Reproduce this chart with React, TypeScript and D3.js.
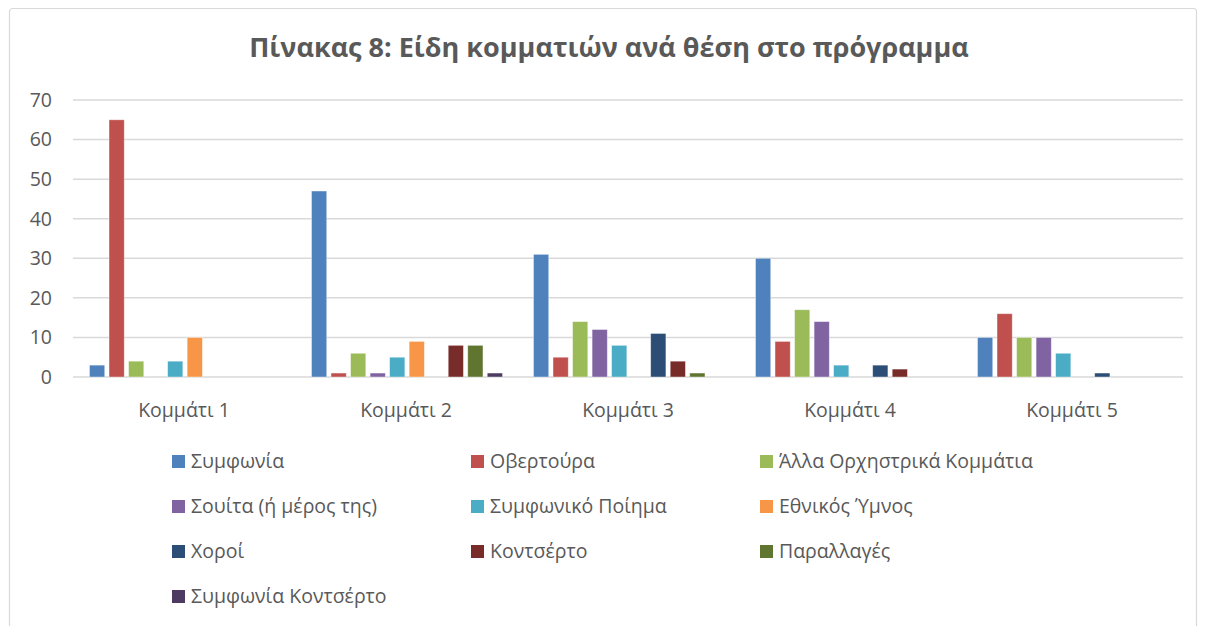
import React from "react";
import * as d3 from "d3";

const categories = ["Κομμάτι 1", "Κομμάτι 2", "Κομμάτι 3", "Κομμάτι 4", "Κομμάτι 5"];
const seriesNames = [
  "Συμφωνία",
  "Οβερτούρα",
  "Άλλα Ορχηστρικά Κομμάτια",
  "Σουίτα (ή μέρος της)",
  "Συμφωνικό Ποίημα",
  "Εθνικός Ύμνος",
  "Χοροί",
  "Κοντσέρτο",
  "Παραλλαγές",
  "Συμφωνία Κοντσέρτο",
];
const seriesColors = [
  "#4F81BD", "#C0504D", "#9BBB59", "#8064A2", "#4BACC6",
  "#F79646", "#2C4D75", "#772C2A", "#5F7530", "#4D3B62",
];
// values[series][category]
const symfonia = [3, 47, 31, 30, 10];
const overtoura = [65, 1, 5, 9, 16];
const allaOrx = [4, 6, 14, 17, 10];
const souita = [0, 1, 12, 14, 10];
const symfPoiima = [4, 5, 8, 3, 6];
const ethnikos = [10, 9, 0, 0, 0];
const xoroi = [0, 0, 11, 3, 1];
const kontserto = [0, 8, 4, 2, 0];
const parallages = [0, 8, 1, 0, 0];
const symfKontserto = [0, 1, 0, 0, 0];
const seriesValues = [symfonia, overtoura, allaOrx, souita, symfPoiima, ethnikos, xoroi, kontserto, parallages, symfKontserto];
const yTicks = [0, 10, 20, 30, 40, 50, 60, 70];
const title = "Πίνακας 8: Είδη κομματιών ανά θέση στο πρόγραμμα";

const W = 1206;
const H = 626;
const FONT = "Open Sans, Noto Sans, sans-serif";
const TEXT = "#595959";

export default function App() {
  const plotL = 73, plotR = 1183, plotT = 100, plotB = 377;
  const x0 = d3.scaleBand<string>().domain(categories).range([plotL, plotR]);
  const x1 = d3.scaleBand<string>().domain(seriesNames).range([16.5, 207.5]).paddingInner(0.22);
  const y = d3.scaleLinear().domain([0, 70]).range([plotB, plotT]);

  const legendCols = [172, 471, 760];
  const legendRows = [461.5, 506.5, 551.5, 596.5];

  return (
    <svg width={W} height={H} style={{ position: "absolute", left: 0, top: 0, display: "block" }}>
      <rect x={0} y={0} width={W} height={H} fill="#ffffff" />
      <rect x={9.5} y={8.5} width={1187} height={640} rx={3} fill="#ffffff" stroke="#D9D9D9" strokeWidth={1.2} />
      <text x={609} y={57} textAnchor="middle" fontFamily={FONT} fontWeight="bold" fontSize={27} fill={TEXT}>
        {title}
      </text>
      {yTicks.map((t) => (
        <g key={t}>
          <line x1={plotL} x2={plotR} y1={y(t)} y2={y(t)} stroke="#D9D9D9" strokeWidth={1.5} />
          <text x={52} y={y(t)} dy="0.35em" textAnchor="end" fontFamily={FONT} fontSize={19.5} fill={TEXT}>
            {t}
          </text>
        </g>
      ))}
      {categories.map((c, ci) => (
        <g key={c}>
          {seriesNames.map((s, si) => {
            const v = seriesValues[si][ci];
            if (!v) return null;
            const bx = (x0(c) as number) + (x1(s) as number);
            return (
              <rect
                key={s}
                x={bx}
                y={y(v)}
                width={x1.bandwidth()}
                height={y(0) - y(v)}
                fill={seriesColors[si]}
                stroke="#ffffff"
                strokeOpacity={0.5}
                strokeWidth={0.8}
              />
            );
          })}
          <text
            x={(x0(c) as number) + x0.bandwidth() / 2}
            y={410}
            dy="0.35em"
            textAnchor="middle"
            fontFamily={FONT}
            fontSize={19.5}
            fill={TEXT}
          >
            {c}
          </text>
        </g>
      ))}
      {seriesNames.map((s, i) => {
        const col = i % 3;
        const row = Math.floor(i / 3);
        const lx = legendCols[col];
        const ly = legendRows[row];
        return (
          <g key={s}>
            <rect x={lx} y={ly - 6.5} width={13} height={13} fill={seriesColors[i]} />
            <text x={lx + 19} y={ly} dy="0.35em" fontFamily={FONT} fontSize={19.5} fill={TEXT}>
              {s}
            </text>
          </g>
        );
      })}
    </svg>
  );
}
